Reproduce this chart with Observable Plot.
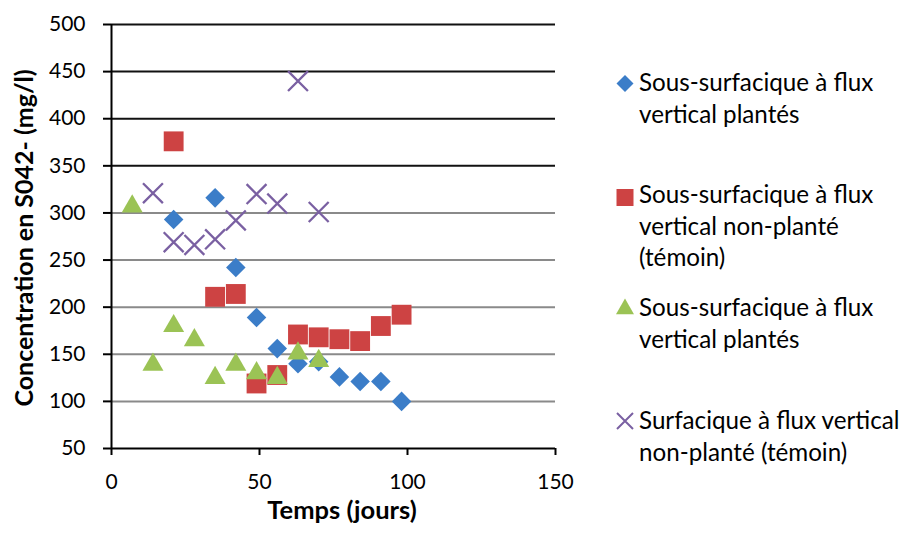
<!DOCTYPE html>
<html>
<head>
<meta charset="utf-8">
<script src="https://cdn.jsdelivr.net/npm/d3@7"></script>
<script src="https://cdn.jsdelivr.net/npm/@observablehq/plot@0.6"></script>
<style>
  body { margin: 0; background: #fff; }
  #chart { width: 906px; height: 535px; }
  svg text { font-family: Lato, "Open Sans", sans-serif; }
</style>
</head>
<body>
<div id="chart"></div>
<script>
// ---- data ----
const seriesNames = [
  "Sous-surfacique à flux vertical plantés",
  "Sous-surfacique à flux vertical non-planté (témoin)",
  "Sous-surfacique à flux vertical plantés",
  "Surfacique à flux vertical non-planté (témoin)"
];
const legendLines = [
  ["Sous-surfacique à flux", "vertical plantés"],
  ["Sous-surfacique à flux", "vertical non-planté", "(témoin)"],
  ["Sous-surfacique à flux", "vertical plantés"],
  ["Surfacique à flux vertical", "non-planté (témoin)"]
];
const blueDays   = [21, 35, 42, 49, 56, 63, 70, 77, 84, 91, 98];
const blueConc   = [293, 316, 242, 189, 156, 140, 142, 126, 121, 121, 100];
const redDays    = [21, 35, 42, 49, 56, 63, 70, 77, 84, 91, 98];
const redConc    = [376, 211, 214, 119, 128, 171, 168, 166, 164, 180, 192];
const greenDays  = [7, 14, 21, 28, 35, 42, 49, 56, 63, 70];
const greenConc  = [307, 139, 180, 165, 125, 139, 130, 125, 151, 143];
const purpleDays = [14, 21, 28, 35, 42, 49, 56, 63, 70];
const purpleConc = [321, 269, 266, 272, 292, 320, 310, 440, 301];
const xTicks = [0, 50, 100, 150];
const yTicks = [50, 100, 150, 200, 250, 300, 350, 400, 450, 500];
const xTitle = "Temps (jours)";
const yTitle = "Concentration en S042- (mg/l)";

const colors = ["#3b7dc8", "#cd4343", "#9bc355", "#7a60a2"];

const rows = (xs, ys, s) => xs.map((d, i) => ({day: d, conc: ys[i], series: seriesNames[s]}));
const blue = rows(blueDays, blueConc, 0);
const red = rows(redDays, redConc, 1);
const green = rows(greenDays, greenConc, 2);
const purple = rows(purpleDays, purpleConc, 3);

const plot = Plot.plot({
  width: 906,
  height: 535,
  marginLeft: 111,
  marginRight: 351,
  marginTop: 24,
  marginBottom: 87,
  style: {fontFamily: "Lato, 'Open Sans', sans-serif", fontSize: "21px", background: "#fff", color: "#000", overflow: "visible"},
  x: {domain: [0, 150]},
  y: {domain: [50, 500]},
  marks: [
    Plot.ruleY(yTicks.filter(d => d > 50 && d < 350), {stroke: "#8a8a8a", strokeWidth: 2}),
    Plot.ruleY(yTicks.filter(d => d >= 350), {stroke: "#111", strokeWidth: 2}),
    Plot.ruleY([50], {stroke: "#000", strokeWidth: 2}),
    Plot.ruleX([0], {stroke: "#000", strokeWidth: 2}),
    Plot.axisY({ticks: yTicks, tickSize: 8, tickPadding: 18, fontSize: 21, stroke: "#000", strokeWidth: 2, label: null}),
    Plot.axisX({ticks: xTicks, tickSize: 7, tickPadding: 19, fontSize: 21, stroke: "#000", strokeWidth: 2, label: null}),
    Plot.dot(purple, {x: "day", y: "conc", symbol: "times", r: 9.1, stroke: colors[3], strokeWidth: 2.3, fill: "none"}),
    Plot.dot(red, {x: "day", y: "conc", symbol: "square", r: 11.2, fill: colors[1], stroke: "none"}),
    Plot.dot(blue, {x: "day", y: "conc", symbol: "diamond2", r: 8.8, fill: colors[0], stroke: "none"}),
    Plot.dot(green, {x: "day", y: "conc", symbol: "triangle", r: 7.8, fill: colors[2], stroke: "none"})
  ]
});
document.getElementById("chart").appendChild(plot);

const svg = d3.select(plot);
// axis titles
svg.append("text")
  .attr("transform", "translate(33,238) rotate(-90)")
  .attr("text-anchor", "middle")
  .attr("font-size", 25).attr("font-weight", "bold").attr("fill", "#000")
  .text(yTitle);
svg.append("text")
  .attr("x", 342).attr("y", 519)
  .attr("text-anchor", "middle")
  .attr("font-size", 25.5).attr("font-weight", "bold").attr("fill", "#000")
  .text(xTitle);

// legend
const legMarkerY = [83.5, 197.5, 309, 421];
const legBase = [91, 203, 316, 429];
const legSizes = [184, 289, 140, 169];
const symFns = [d3.symbolDiamond2, d3.symbolSquare, d3.symbolTriangle, d3.symbolTimes];
const lg = svg.append("g").attr("text-anchor", "start");
legendLines.forEach((lines, i) => {
  const p = lg.append("path")
    .attr("transform", `translate(625,${legMarkerY[i]})`)
    .attr("d", d3.symbol(symFns[i], legSizes[i])());
  if (i === 3) p.attr("fill", "none").attr("stroke", colors[i]).attr("stroke-width", 2);
  else p.attr("fill", colors[i]);
  lines.forEach((t, j) => {
    lg.append("text")
      .attr("x", 639).attr("y", legBase[i] + j * 31.7)
      .attr("text-anchor", "start")
      .attr("font-size", 24.2).attr("fill", "#000")
      .text(t);
  });
});
</script>
</body>
</html>
